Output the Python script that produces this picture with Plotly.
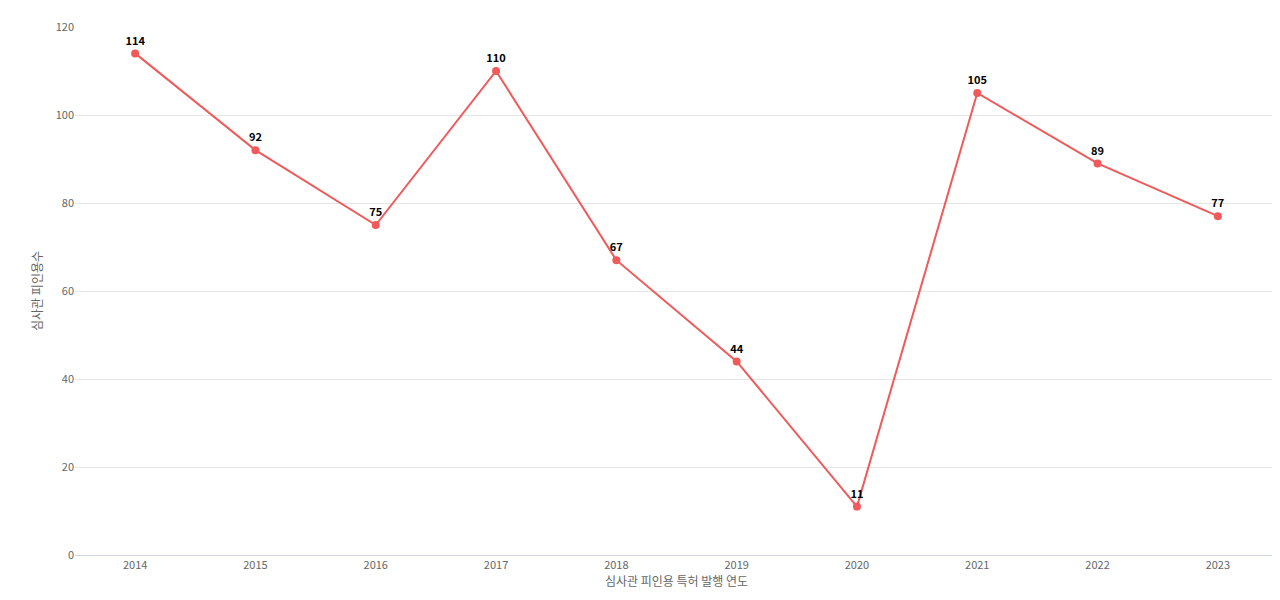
import plotly.graph_objects as go

years = ["2014","2015","2016","2017","2018","2019","2020","2021","2022","2023"]
values = [114, 92, 75, 110, 67, 44, 11, 105, 89, 77]

fig = go.Figure(go.Scatter(
    x=years, y=values, mode="lines+markers+text",
    text=[str(v) for v in values], textposition="top center",
    textfont=dict(family="Noto Sans CJK KR, sans-serif", size=11, color="#000000", weight="bold"),
    line=dict(color="#f05a5a", width=2),
    marker=dict(color="#f05a5a", size=8),
    cliponaxis=False,
))
fig.update_layout(
    width=1280, height=600,
    margin=dict(l=67, r=10, t=10, b=53),
    paper_bgcolor="white", plot_bgcolor="white",
    showlegend=False,
    font=dict(family="Noto Sans CJK KR, sans-serif", size=11, color="#666666"),
    xaxis=dict(type="category", range=[-0.5, 9.5], showgrid=False,
               showline=True, linecolor="#ccd6eb", ticks="",
               title=dict(text="심사관 피인용 특허 발행 연도", font=dict(size=12, color="#666666"), standoff=5)),
    yaxis=dict(range=[0, 120], dtick=20, gridcolor="#e6e6e6", zeroline=False,
               title=dict(text="심사관 피인용수", font=dict(size=12, color="#666666"), standoff=10)),
)
fig.write_html("out.html")
